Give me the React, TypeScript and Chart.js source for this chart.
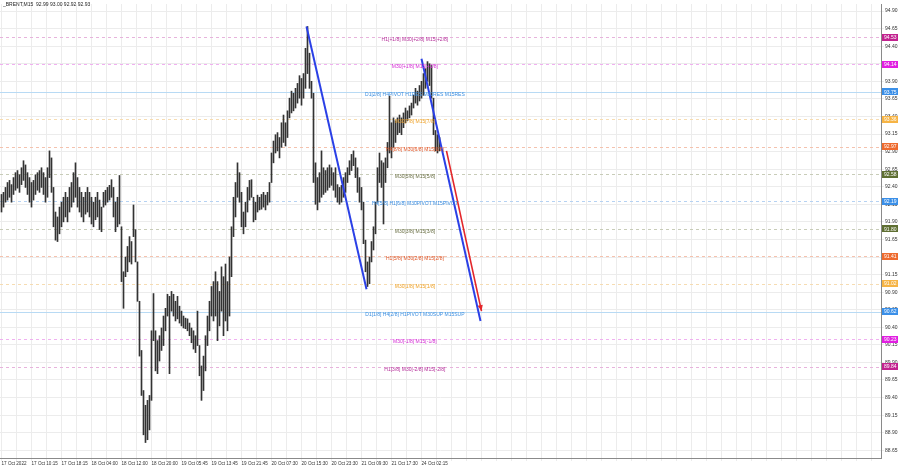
import React, { useEffect, useRef } from "react";
import { Chart, registerables } from "chart.js";
Chart.register(...registerables);

const title = "_BRENT,M15  92.99 93.00 92.92 92.93";
const timeLabels = ["17 Oct 2022", "17 Oct 10:15", "17 Oct 18:15", "18 Oct 04:00", "18 Oct 12:00", "18 Oct 20:00", "19 Oct 05:45", "19 Oct 13:45", "19 Oct 21:45", "20 Oct 07:30", "20 Oct 15:30", "20 Oct 23:30", "21 Oct 09:30", "21 Oct 17:30", "24 Oct 02:15"];
const yTicks = [88.65, 88.9, 89.15, 89.4, 89.65, 89.9, 90.15, 90.4, 90.65, 90.9, 91.15, 91.4, 91.65, 91.9, 92.15, 92.4, 92.65, 92.9, 93.15, 93.4, 93.65, 93.9, 94.15, 94.4, 94.65, 94.9];

const highs = [
  92.29, 92.32, 92.39, 92.46, 92.49, 92.43, 92.53, 92.60, 92.63, 92.57,
  92.67, 92.77, 92.71, 92.60, 92.53, 92.46, 92.49, 92.57, 92.60, 92.63,
  92.67, 92.60, 92.53, 92.67, 92.91, 92.81, 92.39, 92.04, 91.97, 92.11,
  92.18, 92.25, 92.32, 92.25, 92.39, 92.46, 92.60, 92.74, 92.53, 92.39,
  92.32, 92.25, 92.32, 92.39, 92.32, 92.25, 92.18, 92.25, 92.32, 92.21,
  92.11, 92.32, 92.35, 92.39, 92.42, 92.50, 92.39, 92.18, 92.25, 92.56,
  91.83, 91.19, 91.40, 91.55, 91.69, 91.62, 92.14, 91.79, 91.33, 90.77,
  90.07, 89.50, 89.29, 89.36, 89.43, 90.35, 90.88, 90.35, 90.21, 90.28,
  90.39, 90.56, 90.67, 90.87, 90.84, 90.91, 90.87, 90.77, 90.84, 90.70,
  90.63, 90.56, 90.53, 90.52, 90.46, 90.39, 90.35, 90.28, 90.63, 90.14,
  89.85, 89.99, 90.28, 90.56, 90.77, 90.98, 91.05, 91.19, 91.05, 90.91,
  91.26, 91.12, 91.30, 91.05, 91.40, 91.83, 92.25, 92.46, 92.74, 92.60,
  92.32, 92.04, 92.18, 92.39, 92.49, 92.50, 92.25, 92.18, 92.28, 92.25,
  92.29, 92.32, 92.28, 92.32, 92.46, 92.88, 93.05, 93.14, 93.17, 93.10,
  93.31, 93.42, 93.31, 93.48, 93.66, 93.76, 93.73, 93.80, 93.87, 93.98,
  93.94, 94.01, 94.37, 94.68, 94.30, 93.90, 93.73, 92.74, 92.53, 92.60,
  92.91, 92.67, 92.63, 92.67, 92.71, 92.67, 92.60, 92.67, 92.43, 92.39,
  92.42, 92.53, 92.60, 92.67, 92.77, 92.86, 92.91, 92.81, 92.67, 92.53,
  92.39, 92.18, 91.64, 91.33, 91.40, 91.62, 91.83, 92.18, 92.67, 92.88,
  92.77, 92.74, 92.81, 93.03, 93.69, 93.31, 93.38, 93.34, 93.38, 93.42,
  93.38, 93.45, 93.52, 93.48, 93.55, 93.59, 93.70, 93.80, 93.76, 93.84,
  93.90, 94.01, 94.08, 94.18, 94.15, 94.13, 93.66, 93.20, 93.14, 93.10,
];
const lows = [
  92.04, 92.11, 92.18, 92.21, 92.25, 92.18, 92.29, 92.35, 92.38, 92.32,
  92.43, 92.49, 92.39, 92.29, 92.18, 92.11, 92.21, 92.29, 92.35, 92.32,
  92.39, 92.29, 92.18, 92.25, 92.53, 92.32, 91.83, 91.64, 91.62, 91.73,
  91.83, 91.90, 91.97, 91.90, 92.04, 92.11, 92.18, 92.25, 92.11, 92.04,
  91.97, 91.90, 92.01, 92.04, 91.97, 91.87, 91.83, 91.93, 91.97, 91.79,
  91.76, 92.11, 92.14, 92.18, 92.21, 92.25, 91.97, 91.76, 91.83, 91.87,
  91.05, 90.67, 91.12, 91.19, 91.33, 91.30, 91.69, 91.33, 90.77, 89.99,
  89.43, 88.87, 88.76, 88.80, 88.94, 89.36, 90.21, 89.78, 89.74, 89.92,
  90.07, 90.14, 90.35, 90.56, 89.74, 90.63, 90.56, 90.49, 90.52, 90.46,
  90.42, 90.39, 90.38, 90.35, 90.28, 90.18, 90.09, 90.04, 90.14, 89.71,
  89.36, 89.50, 89.78, 90.14, 90.35, 90.56, 90.49, 90.56, 90.21, 90.42,
  90.63, 90.28, 90.49, 90.35, 90.56, 91.12, 91.69, 91.97, 92.25, 92.18,
  91.83, 91.73, 91.83, 92.04, 92.21, 92.25, 91.90, 91.93, 92.04, 92.07,
  92.08, 92.11, 92.07, 92.14, 92.18, 92.46, 92.74, 92.88, 92.91, 92.81,
  92.96, 93.03, 92.98, 93.10, 93.38, 93.45, 93.48, 93.52, 93.59, 93.66,
  93.56, 93.66, 93.80, 94.01, 93.80, 93.66, 92.46, 92.15, 92.07, 92.18,
  92.25, 92.29, 92.32, 92.35, 92.39, 92.42, 92.35, 92.25, 92.18, 92.15,
  92.18, 92.25, 92.32, 92.46, 92.57, 92.63, 92.70, 92.53, 92.32, 92.18,
  92.07, 91.59, 91.19, 90.98, 91.02, 91.33, 91.50, 91.73, 92.18, 92.46,
  92.39, 91.87, 92.46, 92.67, 92.88, 92.81, 92.96, 93.03, 93.14, 93.17,
  93.14, 93.24, 93.31, 93.34, 93.38, 93.42, 93.52, 93.59, 93.56, 93.62,
  93.66, 93.70, 93.80, 93.90, 93.84, 93.66, 93.14, 92.91, 92.88, 92.91,
];

const levelPrices = [94.53, 94.14, 93.75, 93.36, 92.97, 92.58, 92.19, 91.8, 91.41, 91.02, 90.62, 90.23, 89.84];
const levelNames = [
  "H1[+1/8] M30[+2/8] M15[+2/8]",
  "M30[+1/8] M15[+1/8]",
  "D1[2/8] H4PIVOT H1RES M30RES M15RES",
  "M30[7/8] M15[7/8]",
  "H4[8/8] M30[6/8] M15[6/8]",
  "M30[5/8] M15[5/8]",
  "H4[5/8] H1[6/8] M30PIVOT M15PIVOT",
  "M30[3/8] M15[3/8]",
  "H1[5/8] M30[2/8] M15[2/8]",
  "M30[1/8] M15[1/8]",
  "D1[1/8] H4[2/8] H1PIVOT M30SUP M15SUP",
  "M30[-1/8] M15[-1/8]",
  "H1[3/8] M30[-2/8] M15[-2/8]",
];
const levelLineColors = ["#e7b3dc", "#f0b0f0", "#b8daf4", "#f6dcb2", "#f4c2ae", "#c8ccb8", "#b6d2f2", "#c8ccb8", "#f5c2ae", "#f6dcb2", "#b8daf4", "#f0b0f0", "#e7b3dc"];
const levelTextColors = ["#b5309a", "#d42ad4", "#3d8fe0", "#eea22a", "#e0582a", "#6b7046", "#3d8fe0", "#6b7046", "#e0582a", "#eea22a", "#3d8fe0", "#d42ad4", "#b5309a"];
const levelTagColors = ["#c2228f", "#e11fe1", "#3a8fe8", "#f6b445", "#ee6a2e", "#5f6f32", "#3a8fe8", "#5f6f32", "#ee6a2e", "#f6b445", "#3a8fe8", "#e11fe1", "#c2228f"];
const levelSolid = [false, false, true, false, false, false, false, false, false, false, true, false, false];

const trend1 = [{ x: 152.5, y: 94.68 }, { x: 182.5, y: 90.94 }];
const trend2 = [{ x: 210, y: 94.22 }, { x: 239.5, y: 90.49 }];
const arrowLine = [{ x: 222.5, y: 92.91 }, { x: 240, y: 90.63 }];

const FONT = "'Liberation Sans', Arial, sans-serif";

export default function App() {
  const ref = useRef<HTMLCanvasElement | null>(null);
  useEffect(() => {
    document.body.style.margin = "0";
    const canvas = ref.current;
    if (!canvas) return;

    const levelsPlugin = {
      id: "levels",
      beforeDatasetsDraw(chart: any) {
        const { ctx, chartArea } = chart;
        const ys = chart.scales.y;
        ctx.save();
        levelPrices.forEach((p, i) => {
          const y = Math.round(ys.getPixelForValue(p)) + 0.5;
          ctx.beginPath();
          ctx.setLineDash(levelSolid[i] ? [] : [3, 3]);
          ctx.strokeStyle = levelLineColors[i];
          ctx.lineWidth = 1;
          ctx.moveTo(chartArea.left, y);
          ctx.lineTo(chartArea.right, y);
          ctx.stroke();
        });
        ctx.restore();
      },
      afterDatasetsDraw(chart: any) {
        const { ctx } = chart;
        const xs = chart.scales.x;
        const ys = chart.scales.y;
        ctx.save();
        ctx.font = `5px ${FONT}`;
        ctx.textAlign = "center";
        ctx.textBaseline = "middle";
        const cx = xs.getPixelForValue(206.7);
        levelPrices.forEach((p, i) => {
          const y = ys.getPixelForValue(p) + 2.5;
          ctx.fillStyle = levelTextColors[i];
          ctx.fillText(levelNames[i], cx, y);
        });
        const meta = chart.getDatasetMeta(2);
        if (meta && meta.data.length === 2) {
          const a = meta.data[0];
          const b = meta.data[1];
          const ang = Math.atan2(b.y - a.y, b.x - a.x);
          const L = 6, W = 2.6;
          ctx.fillStyle = "#e3262a";
          ctx.beginPath();
          ctx.moveTo(b.x, b.y);
          ctx.lineTo(b.x - L * Math.cos(ang) + W * Math.sin(ang), b.y - L * Math.sin(ang) - W * Math.cos(ang));
          ctx.lineTo(b.x - L * Math.cos(ang) - W * Math.sin(ang), b.y - L * Math.sin(ang) + W * Math.cos(ang));
          ctx.closePath();
          ctx.fill();
        }
        ctx.restore();
      },
      afterDraw(chart: any) {
        const { ctx, chartArea } = chart;
        const ys = chart.scales.y;
        ctx.save();
        ctx.font = `5px ${FONT}`;
        ctx.textBaseline = "middle";
        ctx.textAlign = "left";
        levelPrices.forEach((p, i) => {
          const y = ys.getPixelForValue(p);
          ctx.fillStyle = levelTagColors[i];
          ctx.fillRect(chartArea.right + 1, Math.round(y - 3.5), 16, 7);
          ctx.fillStyle = "#ffffff";
          ctx.fillText(p.toFixed(2), chartArea.right + 3, y + 0.3);
        });
        ctx.fillStyle = "#222";
        ctx.textBaseline = "top";
        ctx.fillText(title, 3, 2);
        ctx.restore();
      },
    };

    const chart = new Chart(canvas, {
      type: "bar",
      data: {
        datasets: [
          { type: "line", data: trend1, borderColor: "#2b40e6", borderWidth: 2, pointRadius: 0, order: 1 } as any,
          { type: "line", data: trend2, borderColor: "#2b40e6", borderWidth: 2, pointRadius: 0, order: 1 } as any,
          { type: "line", data: arrowLine, borderColor: "#e3262a", borderWidth: 1.6, pointRadius: 0, order: 1 } as any,
          {
            type: "bar",
            data: highs.map((h, i) => ({ x: i, y: [lows[i], h] })),
            backgroundColor: "#333333",
            borderWidth: 0,
            barThickness: 1,
            order: 2,
          } as any,
        ],
      },
      options: {
        responsive: false,
        animation: false,
        devicePixelRatio: 1,
        layout: { padding: 0 },
        plugins: { legend: { display: false }, tooltip: { enabled: false } },
        scales: {
          x: {
            type: "linear",
            offset: false,
            min: -0.75,
            max: 439.75,
            afterBuildTicks: (scale: any) => {
              scale.ticks = Array.from({ length: 59 }, (_, k) => ({ value: 7.5 * k }));
            },
            afterFit: (scale: any) => {
              scale.height = 10;
            },
            ticks: {
              autoSkip: false,
              maxRotation: 0,
              align: "start",
              padding: 0,
              color: "#333",
              font: { size: 4.6, family: FONT },
              callback: (_v: any, idx: number) => (idx % 2 === 0 && idx / 2 < timeLabels.length ? timeLabels[idx / 2] : ""),
            },
            grid: { color: "#ececec", tickLength: 3, drawTicks: true, offset: false },
            border: { display: true, color: "#8a8a8a" },
          },
          y: {
            type: "linear",
            position: "right",
            min: 88.54,
            max: 95.0,
            afterBuildTicks: (scale: any) => {
              scale.ticks = yTicks.map((v) => ({ value: v }));
            },
            afterFit: (scale: any) => {
              scale.width = 19;
            },
            ticks: {
              padding: 1,
              color: "#333",
              font: { size: 5, family: FONT },
              callback: (v: any) => Number(v).toFixed(2),
            },
            grid: { color: "#ececec", tickLength: 3 },
            border: { display: true, color: "#8a8a8a" },
          },
        },
      } as any,
      plugins: [levelsPlugin],
    });
    return () => chart.destroy();
  }, []);
  return (
    <div style={{ width: 900, height: 468, background: "#fff" }}>
      <canvas ref={ref} width={900} height={468} style={{ display: "block" }} />
    </div>
  );
}
